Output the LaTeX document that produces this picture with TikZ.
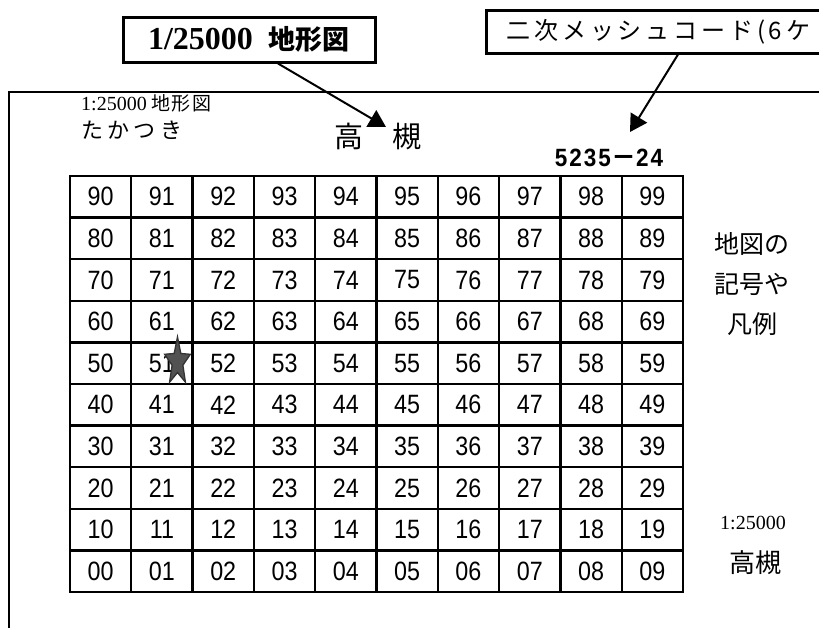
\documentclass[tikz,border=0pt]{standalone}
\usepackage{fontspec}
\setmainfont{Liberation Serif}
\newfontfamily\jp{Noto Sans CJK JP}
\newfontfamily\jpspaced[LetterSpace=16]{Noto Sans CJK JP}
\newfontfamily\kanaspaced[LetterSpace=20]{Noto Sans CJK JP}
\newfontfamily\smalljp[LetterSpace=6]{Noto Sans CJK JP}
\newfontfamily\gridfont[FakeStretch=0.88]{Liberation Sans}
\newfontfamily\codefont[LetterSpace=8,FakeStretch=0.9]{Liberation Sans}
\usetikzlibrary{arrows.meta,calc}
\begin{document}
\begin{tikzpicture}[x=1pt,y=-1pt,
  labelbox/.style={draw, line width=3pt, inner sep=0pt},
  cell/.style={draw, line width=2.3pt, minimum width=61.3pt, minimum height=41.6pt, inner sep=0pt,
    font=\gridfont\fontsize{26.5}{26.5}\selectfont},
  pointer/.style={line width=2pt, -{Triangle[length=17pt,width=19pt]}},
  plain/.style={inner sep=0pt},
  starstyle/.style={fill=black!68, draw=black!80, line width=1.3pt, line join=miter}
]
\useasboundingbox (0,0) rectangle (819,627);

% outer sheet frame (cut off at the right and bottom)
\draw[line width=2pt] (9,700) -- (9,92) -- (900,92);

% callout boxes
\node[labelbox, minimum width=252pt, minimum height=45pt] (box1) at (249,39.5)
  {\fontsize{32}{32}\selectfont\bfseries 1/25000\hspace{16pt}{\jp\bfseries\fontsize{27}{27}\selectfont 地形図}};
\node[labelbox, anchor=west, minimum height=43pt, text width=380pt, align=left, inner xsep=20pt] (box2) at (485,31.5)
  {\jpspaced\fontsize{24}{24}\selectfont 二次メッシュコード(6ケ};

% texts on the sheet
\node[plain, anchor=west] (scale1) at (81,103)
  {\fontsize{20}{20}\selectfont 1:25000 {\smalljp\fontsize{19}{19}\selectfont 地形図}};
\node[plain, anchor=west] (kana) at (81,130)
  {\kanaspaced\fontsize{22}{22}\selectfont たかつき};
\node[plain] (title) at (378,137) {\jp\fontsize{29}{29}\selectfont 高　槻};
\node[plain] (code) at (609,158) {\codefont\bfseries\fontsize{25}{25}\selectfont 5235{\jp －}24};

\node[plain, align=center, font=\jp\fontsize{25}{40}\selectfont] (legend) at (752,284)
  {地図の\\記号や\\凡例};
\node[plain] (scale2) at (753,523) {\fontsize{20}{20}\selectfont 1:25000};
\node[plain] (name2) at (755,563) {\jp\fontsize{26}{26}\selectfont 高槻};

% mesh grid
\foreach \r in {0,...,9}{
  \foreach \c in {0,...,9}{
    \node[cell] (c\r\c) at ({70+(\c+0.5)*61.3},{176+(9-\r+0.5)*41.6}) {\r\c};
  }
}

% star on cell 51
\begin{scope}[shift={(177.5,362)}, xscale=13.5, yscale=-25]
  \draw[starstyle] (90:1) -- (126:0.42) -- (162:1) -- (198:0.42) -- (234:1) -- (270:0.42)
    -- (306:1) -- (342:0.42) -- (18:1) -- (54:0.42) -- cycle;
\end{scope}

% arrows
\coordinate (tip1) at (386,127);
\coordinate (tip2) at (630,132);
\draw[pointer] ($(box1.south)+(29,0)$) -- (tip1);
\draw[pointer] ($(box2.south west)+(193,0)$) -- (tip2);
\end{tikzpicture}
\end{document}
